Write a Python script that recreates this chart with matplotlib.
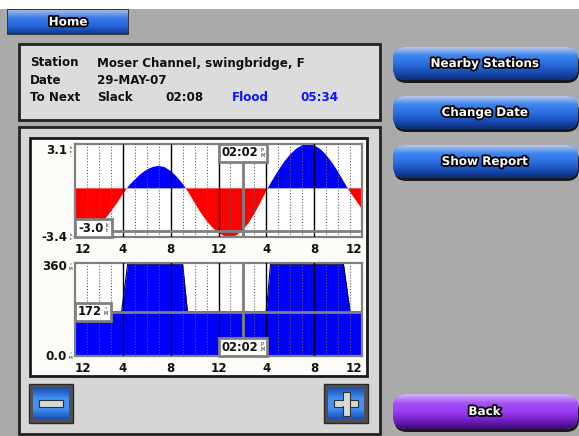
import numpy as np
import matplotlib
matplotlib.use('Agg')
import matplotlib.pyplot as plt
import matplotlib.transforms as mtransforms
import matplotlib.patheffects as pe
from matplotlib.patches import FancyBboxPatch, Rectangle
from matplotlib.colors import LinearSegmentedColormap

# ------------------------------------------------
# data
# ------------------------------------------------
station = 'Moser Channel, swingbridge, F'
date_str = '29-MAY-07'
next_slack = ('Slack', '02:08')
next_flood = ('Flood', '05:34')

# current speed (kt), every half hour from 12 am to 12 am
hours = np.arange(0, 24.5, 0.5)
speed = [-3.00, -3.10, -3.06, -2.88, -2.57, -2.15, -1.62, -1.04, -0.39,
         0.18, 0.62, 1.01, 1.31, 1.50, 1.57, 1.48, 1.22, 0.82, 0.32,
         -0.29, -1.00, -1.68, -2.27, -2.75, -3.12, -3.34, -3.42, -3.28,
         -2.95, -2.44, -1.78, -1.00, -0.17,
         0.57, 1.25, 1.87, 2.38, 2.77, 3.02, 3.10, 3.01, 2.76, 2.34,
         1.80, 1.15, 0.44, -0.25, -0.85, -1.45]
speed_lim = (-3.4, 3.1)

# current direction (deg M)
dir_hours = [0, 3.9, 4.4, 9.0, 9.4, 16.0, 16.35, 22.45, 23.0, 24]
dir_deg = [172, 172, 355, 355, 172, 172, 355, 355, 172, 172]
dir_lim = (0, 360)

tick_hours = [0, 4, 8, 12, 16, 20, 24]
tick_labels = ['12', '4', '8', '12', '4', '8', '12']

cursor_hour = 14 + 2 / 60.0
cursor_time = '02:02'
cursor_speed = -3.0
cursor_dir = 172

side_buttons = ['Nearby Stations', 'Change Date', 'Show Report']

# ------------------------------------------------
# figure, pixel based background axes
# ------------------------------------------------
W, H = 579, 436
fig = plt.figure(figsize=(W / 100, H / 100), dpi=100)
bg = fig.add_axes([0, 0, 1, 1])
bg.set_xlim(0, W)
bg.set_ylim(H, 0)
bg.axis('off')

BOLD = dict(fontfamily='DejaVu Sans', fontweight='bold')
outline = [pe.withStroke(linewidth=2.6, foreground='black')]
FS = 8.6
ink = '#111111'
flood_ink = '#0a14ff'
PIX = mtransforms.IdentityTransform()


def px_axes(x0, y0, x1, y1):
    return fig.add_axes([x0 / W, 1 - y1 / H, (x1 - x0) / W, (y1 - y0) / H])


def gradient(patch, x0, y0, x1, y1, colors, z):
    cmap = LinearSegmentedColormap.from_list('g', colors)
    img = bg.imshow(np.linspace(0, 1, 64).reshape(-1, 1), cmap=cmap,
                    extent=(x0, x1, y1, y0), aspect='auto', zorder=z,
                    interpolation='bilinear')
    img.set_clip_path(patch)


def pill(x0, y0, x1, y1, colors, label):
    r = (y1 - y0) / 2 * 0.75
    shadow = FancyBboxPatch((x0 + 1, y0 + 3), x1 - x0, y1 - y0,
                            boxstyle='round,pad=0,rounding_size=%f' % r,
                            fc='#1a1a1a', ec='none', zorder=2)
    bg.add_patch(shadow)
    p = FancyBboxPatch((x0, y0), x1 - x0, y1 - y0,
                       boxstyle='round,pad=0,rounding_size=%f' % r,
                       fc=colors[1], ec='none', zorder=3)
    bg.add_patch(p)
    gradient(p, x0, y0, x1, y1, colors, 3.1)
    bg.text((x0 + x1) / 2 - 1, (y0 + y1) / 2, label, ha='center', va='center',
            color='white', fontsize=8.6, zorder=4, path_effects=outline, **BOLD)


# screen background
bg.add_patch(Rectangle((0, 0), W, H, fc='#aaaaaa', ec='none', zorder=0))
bg.add_patch(Rectangle((0, 0), W, 9.5, fc='white', ec='none', zorder=0.5))

# home tab
tab = Rectangle((8, 10), 120, 24, fc='#2a6ad8', ec='#202020', lw=1.2, zorder=2)
bg.add_patch(tab)
gradient(tab, 8, 10, 128, 34, ['#a0bce8', '#3a7ae8', '#2464d8', '#123a90'], 2.1)
bg.text(68, 22, 'Home', ha='center', va='center', color='white', fontsize=8.6,
        zorder=4, path_effects=outline, **BOLD)

# info box
bg.add_patch(Rectangle((19, 44), 361, 76, fc='#dcdcdc', ec='#222222', lw=2, zorder=1))
rows_y = [63, 80, 97]
bg.text(30, rows_y[0], 'Station', va='center', fontsize=FS, color=ink, **BOLD)
bg.text(30, rows_y[1], 'Date', va='center', fontsize=FS, color=ink, **BOLD)
bg.text(30, rows_y[2], 'To Next', va='center', fontsize=FS, color=ink, **BOLD)
bg.text(97, rows_y[0], station, va='center', fontsize=FS, color=ink, **BOLD)
bg.text(97, rows_y[1], date_str, va='center', fontsize=FS, color=ink, **BOLD)
bg.text(97, rows_y[2], next_slack[0], va='center', fontsize=FS, color=ink, **BOLD)
bg.text(165, rows_y[2], next_slack[1], va='center', fontsize=FS, color=ink, **BOLD)
bg.text(232, rows_y[2], next_flood[0], va='center', fontsize=FS, color=flood_ink, **BOLD)
bg.text(300, rows_y[2], next_flood[1], va='center', fontsize=FS, color=flood_ink, **BOLD)

# chart frame + white chart panel
bg.add_patch(Rectangle((19, 127), 361, 307, fc='#d6d6d6', ec='#222222', lw=2, zorder=1))
bg.add_patch(Rectangle((30, 138), 337, 238, fc='#fcfcf8', ec='#1a1a1a', lw=2, zorder=1.2))

# zoom buttons
for bx, sign in [(29, '-'), (324, '+')]:
    bg.add_patch(Rectangle((bx, 384), 44, 39, fc='#505050', ec='#2a2a2a', lw=1, zorder=2))
    sq = Rectangle((bx + 4, 388), 36, 31, fc='#2e7ee8', ec='none', zorder=2.2)
    bg.add_patch(sq)
    gradient(sq, bx + 4, 388, bx + 40, 419, ['#1c4fb0', '#3f92f4', '#3f92f4', '#1c4fb0'], 2.3)
    cx, cy = bx + 22, 403.5
    bg.add_patch(Rectangle((cx - 12, cy - 3.5), 24, 7, fc='#d8d8d8', ec='#303030', lw=0.8, zorder=3))
    if sign == '+':
        bg.add_patch(Rectangle((cx - 3.5, cy - 12), 7, 24, fc='#d8d8d8', ec='#303030', lw=0.8, zorder=3))
        bg.add_patch(Rectangle((cx - 2.9, cy - 2.9), 5.8, 5.8, fc='#d8d8d8', ec='none', zorder=3.1))

# side buttons
blue_cols = ['#b8c8e8', '#3d86f0', '#2a6fe0', '#1a50b8', '#0c2c78']
for i, label in enumerate(side_buttons):
    y0 = 47 + i * 49
    pill(393, y0, 578, y0 + 33, blue_cols, label)
pill(393, 394, 578, 429, ['#d2b8f0', '#a850f8', '#9a3cf0', '#7420c8', '#3c0a70'], 'Back')

# ------------------------------------------------
# charts
# ------------------------------------------------
def style_chart(ax, lim):
    ax.set_xlim(0, 24)
    ax.set_ylim(*lim)
    ax.set_facecolor('white')
    for s in ax.spines.values():
        s.set_color('#808080')
        s.set_linewidth(1.6)
    ax.set_yticks([])
    ax.set_xticks(tick_hours)
    ax.set_xticklabels(tick_labels, fontsize=8.6, **BOLD)
    ax.tick_params(axis='x', length=0, pad=4, colors=ink)
    labs = ax.get_xticklabels()
    labs[0].set_horizontalalignment('left')
    labs[-1].set_horizontalalignment('right')
    for h in range(1, 24):
        if h % 4:
            ax.axvline(h, color='#606060', lw=0.8, ls=(0, (1, 1.6)), zorder=3)
        else:
            ax.axvline(h, color='black', lw=1.0, zorder=3)


def ylab(ax, val, text, unit, dy):
    tr = mtransforms.blended_transform_factory(ax.transAxes, ax.transData)
    ax.annotate(text, xy=(0, val), xycoords=tr, xytext=(-8 * 0.72, dy * 0.72),
                textcoords='offset points', ha='right', va='center',
                fontsize=8.6, color=ink, annotation_clip=False, **BOLD)
    ax.annotate(unit, xy=(0, val), xycoords=tr, xytext=(-4.5 * 0.72, dy * 0.72),
                textcoords='offset points', ha='center', va='center',
                fontsize=3.2, linespacing=0.8, color=ink, annotation_clip=False)


value_boxes = []


def valbox(ax, x, y, text, unit, ha, va, dx, dy):
    # anchor in display pixels, box laid out once the text is measured
    anchor = ax.transData.transform((x, y))
    t = fig.text(0, 0, text, transform=PIX, ha='left', va='center',
                 fontsize=8.4, color=ink, zorder=6, **BOLD)
    value_boxes.append((t, unit, anchor, ha, va, dx, dy))


# upper: tidal current
ax1 = px_axes(75, 144, 362, 237)
style_chart(ax1, speed_lim)
sp = np.array(speed)
ax1.fill_between(hours, sp, 0, where=sp >= 0, interpolate=True, color='#0000ff', lw=0, zorder=2)
ax1.fill_between(hours, sp, 0, where=sp <= 0, interpolate=True, color='#ff0000', lw=0, zorder=2)
ax1.axhline(cursor_speed, color='#808080', lw=2, zorder=4)
ax1.axvline(cursor_hour, color='#808080', lw=2, zorder=4)
ylab(ax1, speed_lim[1], '3.1', 'k\nt', -6)
ylab(ax1, speed_lim[0], '-3.4', 'k\nt', 0)
valbox(ax1, 0, speed_lim[0], '%.1f' % cursor_speed, 'k\nt', 'left', 'bottom', 0, 0)
valbox(ax1, cursor_hour, speed_lim[1], cursor_time, 'P\nM', 'center', 'top', 0, 0)

# lower: current direction
ax2 = px_axes(75, 263, 362, 356)
style_chart(ax2, dir_lim)
ax2.fill_between(dir_hours, dir_deg, 0, color='#0000ff', lw=0, zorder=2)
ax2.plot(dir_hours, dir_deg, color='#000060', lw=0.8, zorder=2.5)
ax2.axhline(cursor_dir, color='#808080', lw=2, zorder=4)
ax2.axvline(cursor_hour, color='#808080', lw=2, zorder=4)
ylab(ax2, dir_lim[1], '360', '\u00b0\nM', -4)
ylab(ax2, dir_lim[0], '0.0', '\u00b0\nM', 0)
valbox(ax2, 0, cursor_dir, '%d' % cursor_dir, '\u00b0\nM', 'left', 'center', 0, 0)
valbox(ax2, cursor_hour, dir_lim[0], cursor_time, 'P\nM', 'center', 'bottom', 0, 0)

# value boxes: white box, bold value, tiny stacked unit
fig.canvas.draw()
rend = fig.canvas.get_renderer()
for t, unit, (axp, ayp), ha, va, dx, dy in value_boxes:
    ext = t.get_window_extent(rend)
    bw, bh = ext.width + 12, 18
    bx0 = axp + dx if ha == 'left' else axp - bw / 2 + dx
    if va == 'bottom':
        by0 = ayp + dy
    elif va == 'top':
        by0 = ayp - bh + dy
    else:
        by0 = ayp - bh / 2 + dy
    fig.add_artist(Rectangle((bx0, by0), bw, bh, transform=PIX, fc='white',
                             ec='#808080', lw=2, zorder=5))
    t.set_position((bx0 + 3, by0 + bh / 2))
    fig.text(bx0 + ext.width + 7, by0 + bh / 2, unit, transform=PIX,
             ha='center', va='center', fontsize=3.4, linespacing=0.8,
             color=ink, zorder=7)

fig.savefig('out.png', dpi=100)
